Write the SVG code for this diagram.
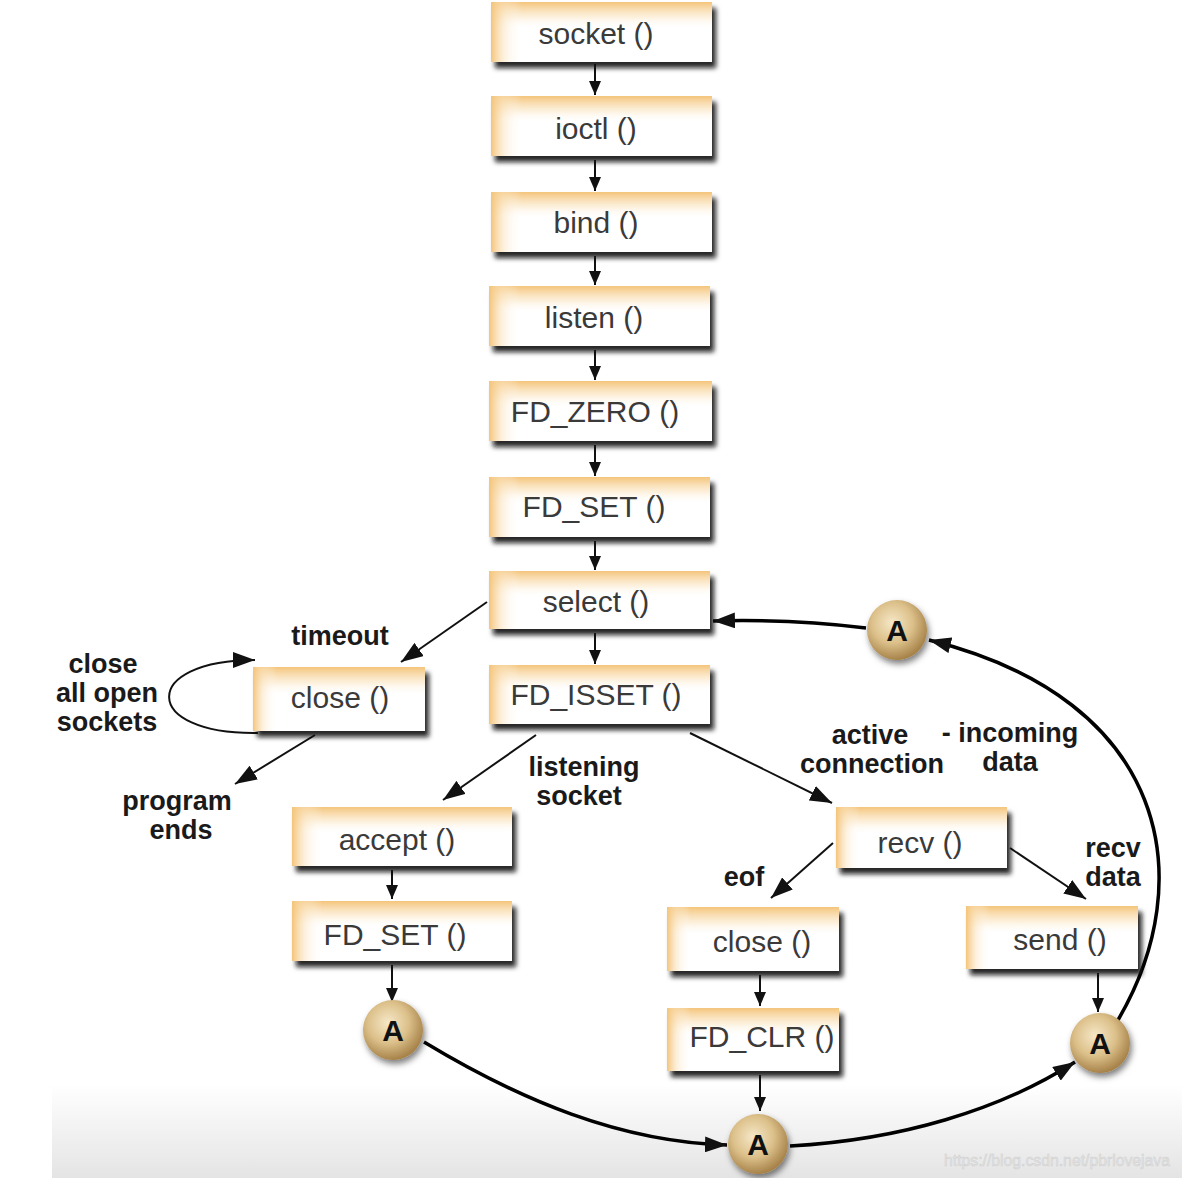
<svg xmlns="http://www.w3.org/2000/svg" width="1182" height="1178" viewBox="0 0 1182 1178">
<style>
.bt{font-family:"Liberation Sans",Arial,sans-serif;font-size:30px;fill:#3a3a3a;text-anchor:middle}
.lb{font-family:"Liberation Sans",Arial,sans-serif;font-size:27px;font-weight:bold;fill:#1a1a1a;text-anchor:middle}
.ca{font-family:"Liberation Sans",Arial,sans-serif;font-size:30px;font-weight:bold;fill:#111;text-anchor:middle}
.th{fill:none;stroke:#111;stroke-width:2}
.tk{fill:none;stroke:#000;stroke-width:3.5}
.wm{font-family:"Liberation Sans",Arial,sans-serif;font-size:16px;fill:#e4e4e4;stroke:#cfcfcf;stroke-width:0.5}
</style>
<defs>
<linearGradient id="gT" x1="0" y1="0" x2="0" y2="1"><stop offset="0" stop-color="#f4c47a"/><stop offset="0.25" stop-color="#fbe7c6" stop-opacity="0.6"/><stop offset="0.45" stop-color="#fff" stop-opacity="0"/></linearGradient>
<linearGradient id="gL" x1="0" y1="0" x2="1" y2="0"><stop offset="0" stop-color="#f4c47a"/><stop offset="0.06" stop-color="#fbe3bd" stop-opacity="0.5"/><stop offset="0.14" stop-color="#fff" stop-opacity="0"/></linearGradient>
<radialGradient id="gC" cx="0.42" cy="0.38" r="0.62"><stop offset="0" stop-color="#f6e8c8"/><stop offset="0.55" stop-color="#dcc08a"/><stop offset="1" stop-color="#a7834a"/></radialGradient>
<linearGradient id="gB" x1="0" y1="0" x2="0" y2="1"><stop offset="0" stop-color="#fff"/><stop offset="1" stop-color="#e4e4e4"/></linearGradient>
<filter id="sh" x="-10%" y="-10%" width="130%" height="140%"><feDropShadow dx="4" dy="6" stdDeviation="2.5" flood-color="#111" flood-opacity="0.9"/></filter>
<filter id="shc" x="-30%" y="-30%" width="170%" height="170%"><feDropShadow dx="2" dy="4" stdDeviation="3" flood-color="#000" flood-opacity="0.5"/></filter>
<marker id="ah" viewBox="0 0 22 16" refX="22" refY="8" markerWidth="22" markerHeight="16" markerUnits="userSpaceOnUse" orient="auto"><path d="M0,0 L22,8 L0,16 z" fill="#111"/></marker>
<marker id="as" viewBox="0 0 14 12" refX="14" refY="6" markerWidth="14" markerHeight="12" markerUnits="userSpaceOnUse" orient="auto"><path d="M0,0 L14,6 L0,12 z" fill="#111"/></marker>
</defs>
<rect width="1182" height="1178" fill="#fff"/>
<rect x="52" y="1085" width="1130" height="93" fill="url(#gB)"/>
<text class="wm" x="944" y="1166" textLength="226" lengthAdjust="spacingAndGlyphs">https://blog.csdn.net/pbrlovejava</text>

<g id="connectors">
<line class="th" x1="595" y1="64" x2="595" y2="95" marker-end="url(#as)"/>
<line class="th" x1="595" y1="160" x2="595" y2="191" marker-end="url(#as)"/>
<line class="th" x1="595" y1="256" x2="595" y2="285" marker-end="url(#as)"/>
<line class="th" x1="595" y1="350" x2="595" y2="380" marker-end="url(#as)"/>
<line class="th" x1="595" y1="445" x2="595" y2="476" marker-end="url(#as)"/>
<line class="th" x1="595" y1="541" x2="595" y2="570" marker-end="url(#as)"/>
<line class="th" x1="595" y1="633" x2="595" y2="664" marker-end="url(#as)"/>
<line class="th" x1="487" y1="602" x2="401" y2="662" marker-end="url(#ah)"/>
<path class="th" d="M258,733 C140,735 140,660 255,660" marker-end="url(#ah)"/>
<line class="th" x1="315" y1="735" x2="235" y2="784" marker-end="url(#ah)"/>
<line class="th" x1="536" y1="735" x2="443" y2="800" marker-end="url(#ah)"/>
<line class="th" x1="690" y1="733" x2="832" y2="803" marker-end="url(#ah)"/>
<line class="th" x1="392" y1="870" x2="392" y2="899" marker-end="url(#as)"/>
<line class="th" x1="392" y1="965" x2="392" y2="1002" marker-end="url(#as)"/>
<line class="th" x1="833" y1="843" x2="771" y2="898" marker-end="url(#ah)"/>
<line class="th" x1="1010" y1="848" x2="1086" y2="899" marker-end="url(#ah)"/>
<line class="th" x1="760" y1="975" x2="760" y2="1006" marker-end="url(#as)"/>
<line class="th" x1="760" y1="1075" x2="760" y2="1111" marker-end="url(#as)"/>
<line class="th" x1="1098" y1="973" x2="1098" y2="1012" marker-end="url(#as)"/>
<path class="tk" d="M424,1042 C520,1100 620,1142 727,1145" marker-end="url(#ah)"/>
<path class="tk" d="M790,1146 C900,1140 1000,1110 1075,1062" marker-end="url(#ah)"/>
<path class="tk" d="M1118,1020 C1200,880 1170,700 929,640" marker-end="url(#ah)"/>
<path class="tk" d="M866,628 C800,620 750,620 713,621" marker-end="url(#ah)"/>
</g>

<g id="n-socket"><g filter="url(#sh)"><rect x="491" y="2" width="221" height="60" fill="#fff"/></g><rect x="491" y="2" width="221" height="60" fill="url(#gT)"/><rect x="491" y="2" width="221" height="60" fill="url(#gL)"/><text class="bt" x="596" y="44">socket ()</text></g>
<g id="n-ioctl"><g filter="url(#sh)"><rect x="491" y="96" width="221" height="60" fill="#fff"/></g><rect x="491" y="96" width="221" height="60" fill="url(#gT)"/><rect x="491" y="96" width="221" height="60" fill="url(#gL)"/><text class="bt" x="596" y="139">ioctl ()</text></g>
<g id="n-bind"><g filter="url(#sh)"><rect x="491" y="192" width="221" height="60" fill="#fff"/></g><rect x="491" y="192" width="221" height="60" fill="url(#gT)"/><rect x="491" y="192" width="221" height="60" fill="url(#gL)"/><text class="bt" x="596" y="233">bind ()</text></g>
<g id="n-listen"><g filter="url(#sh)"><rect x="489" y="286" width="221" height="60" fill="#fff"/></g><rect x="489" y="286" width="221" height="60" fill="url(#gT)"/><rect x="489" y="286" width="221" height="60" fill="url(#gL)"/><text class="bt" x="594" y="328">listen ()</text></g>
<g id="n-fdzero"><g filter="url(#sh)"><rect x="489" y="381" width="223" height="60" fill="#fff"/></g><rect x="489" y="381" width="223" height="60" fill="url(#gT)"/><rect x="489" y="381" width="223" height="60" fill="url(#gL)"/><text class="bt" x="595" y="422">FD_ZERO ()</text></g>
<g id="n-fdset1"><g filter="url(#sh)"><rect x="489" y="477" width="221" height="60" fill="#fff"/></g><rect x="489" y="477" width="221" height="60" fill="url(#gT)"/><rect x="489" y="477" width="221" height="60" fill="url(#gL)"/><text class="bt" x="594" y="517">FD_SET ()</text></g>
<g id="n-select"><g filter="url(#sh)"><rect x="489" y="571" width="221" height="58" fill="#fff"/></g><rect x="489" y="571" width="221" height="58" fill="url(#gT)"/><rect x="489" y="571" width="221" height="58" fill="url(#gL)"/><text class="bt" x="596" y="612">select ()</text></g>
<g id="n-fdisset"><g filter="url(#sh)"><rect x="489" y="665" width="221" height="59" fill="#fff"/></g><rect x="489" y="665" width="221" height="59" fill="url(#gT)"/><rect x="489" y="665" width="221" height="59" fill="url(#gL)"/><text class="bt" x="596" y="705">FD_ISSET ()</text></g>
<g id="n-close1"><g filter="url(#sh)"><rect x="253" y="667" width="172" height="64" fill="#fff"/></g><rect x="253" y="667" width="172" height="64" fill="url(#gT)"/><rect x="253" y="667" width="172" height="64" fill="url(#gL)"/><text class="bt" x="340" y="708">close ()</text></g>
<g id="n-accept"><g filter="url(#sh)"><rect x="292" y="807" width="220" height="59" fill="#fff"/></g><rect x="292" y="807" width="220" height="59" fill="url(#gT)"/><rect x="292" y="807" width="220" height="59" fill="url(#gL)"/><text class="bt" x="397" y="850">accept ()</text></g>
<g id="n-fdset2"><g filter="url(#sh)"><rect x="292" y="901" width="220" height="60" fill="#fff"/></g><rect x="292" y="901" width="220" height="60" fill="url(#gT)"/><rect x="292" y="901" width="220" height="60" fill="url(#gL)"/><text class="bt" x="395" y="945">FD_SET ()</text></g>
<g id="n-recv"><g filter="url(#sh)"><rect x="836" y="807" width="171" height="61" fill="#fff"/></g><rect x="836" y="807" width="171" height="61" fill="url(#gT)"/><rect x="836" y="807" width="171" height="61" fill="url(#gL)"/><text class="bt" x="920" y="853">recv ()</text></g>
<g id="n-close2"><g filter="url(#sh)"><rect x="667" y="907" width="172" height="64" fill="#fff"/></g><rect x="667" y="907" width="172" height="64" fill="url(#gT)"/><rect x="667" y="907" width="172" height="64" fill="url(#gL)"/><text class="bt" x="762" y="952">close ()</text></g>
<g id="n-send"><g filter="url(#sh)"><rect x="966" y="906" width="172" height="63" fill="#fff"/></g><rect x="966" y="906" width="172" height="63" fill="url(#gT)"/><rect x="966" y="906" width="172" height="63" fill="url(#gL)"/><text class="bt" x="1060" y="950">send ()</text></g>
<g id="n-fdclr"><g filter="url(#sh)"><rect x="667" y="1008" width="172" height="63" fill="#fff"/></g><rect x="667" y="1008" width="172" height="63" fill="url(#gT)"/><rect x="667" y="1008" width="172" height="63" fill="url(#gL)"/><text class="bt" x="762" y="1047">FD_CLR ()</text></g>

<g id="n-a1"><circle cx="897" cy="630" r="30" fill="url(#gC)" filter="url(#shc)"/><text class="ca" x="897" y="641">A</text></g>
<g id="n-a2"><circle cx="393" cy="1030" r="30" fill="url(#gC)" filter="url(#shc)"/><text class="ca" x="393" y="1041">A</text></g>
<g id="n-a3"><circle cx="758" cy="1144" r="30" fill="url(#gC)" filter="url(#shc)"/><text class="ca" x="758" y="1155">A</text></g>
<g id="n-a4"><circle cx="1100" cy="1043" r="30" fill="url(#gC)" filter="url(#shc)"/><text class="ca" x="1100" y="1054">A</text></g>

<g id="labels">
<text class="lb" x="340" y="645">timeout</text>
<text class="lb" x="103" y="673">close</text>
<text class="lb" x="107" y="702">all open</text>
<text class="lb" x="107" y="731">sockets</text>
<text class="lb" x="177" y="810">program</text>
<text class="lb" x="181" y="839">ends</text>
<text class="lb" x="584" y="776">listening</text>
<text class="lb" x="579" y="805">socket</text>
<text class="lb" x="870" y="744">active</text>
<text class="lb" x="872" y="773">connection</text>
<text class="lb" x="1010" y="742">- incoming</text>
<text class="lb" x="1010" y="771">data</text>
<text class="lb" x="744" y="886">eof</text>
<text class="lb" x="1113" y="857">recv</text>
<text class="lb" x="1113" y="886">data</text>
</g>
</svg>
